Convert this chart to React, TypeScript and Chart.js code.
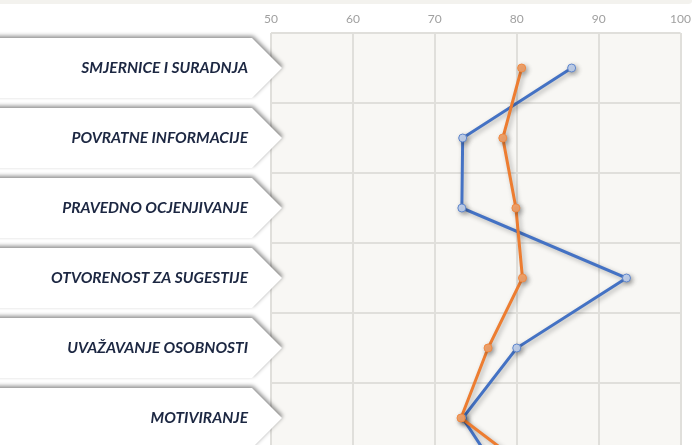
import React, { useEffect, useRef } from "react";
import { Chart, registerables } from "chart.js";

Chart.register(...registerables);

// Categories (7th row is below the visible part of the picture)
const categories = [
  "SMJERNICE I SURADNJA",
  "POVRATNE INFORMACIJE",
  "PRAVEDNO OCJENJIVANJE",
  "OTVORENOST ZA SUGESTIJE",
  "UVAŽAVANJE OSOBNOSTI",
  "MOTIVIRANJE",
  "",
];
const blueSeries = [86.7, 73.4, 73.3, 93.4, 80.0, 73.4, 79.0];
const orangeSeries = [80.6, 78.3, 79.9, 80.7, 76.5, 73.2, 84.5];
const xTicks = [50, 60, 70, 80, 90, 100];

const BLUE = "#4472c4";
const ORANGE = "#ed7d31";

const decorPlugin = {
  id: "decor",
  beforeDraw(chart: any) {
    const { ctx, chartArea } = chart;
    ctx.save();
    // top strip
    ctx.fillStyle = "#f3f2ee";
    ctx.beginPath();
    ctx.moveTo(0, 0);
    ctx.lineTo(692, 0);
    ctx.lineTo(692, 1);
    ctx.quadraticCurveTo(692, 4, 688, 4);
    ctx.lineTo(0, 4);
    ctx.closePath();
    ctx.fill();
    // plot background
    ctx.fillStyle = "#f8f7f4";
    ctx.fillRect(chartArea.left, chartArea.top, chartArea.right - chartArea.left, chartArea.bottom - chartArea.top);
    ctx.restore();
  },
  beforeDatasetsDraw(chart: any) {
    const ctx = chart.ctx;
    ctx.save();
    ctx.shadowColor = "rgba(0,0,0,0.3)";
    ctx.shadowBlur = 5;
    ctx.shadowOffsetX = 2;
    ctx.shadowOffsetY = 2;
  },
  afterDatasetsDraw(chart: any) {
    chart.ctx.restore();
  },
  afterDraw(chart: any) {
    const { ctx, scales } = chart;
    const y = scales.y;
    categories.forEach((label, i) => {
      if (!label) return;
      const cy = y.getPixelForValue(i);
      ctx.save();
      ctx.beginPath();
      ctx.moveTo(-20, cy - 30);
      ctx.lineTo(252, cy - 30);
      ctx.lineTo(282, cy);
      ctx.lineTo(252, cy + 30);
      ctx.lineTo(-20, cy + 30);
      ctx.closePath();
      ctx.shadowColor = "rgba(0,0,0,0.45)";
      ctx.shadowBlur = 4;
      ctx.shadowOffsetX = 1;
      ctx.shadowOffsetY = -2;
      ctx.fillStyle = "#ffffff";
      ctx.fill();
      ctx.restore();
      ctx.save();
      ctx.font = "italic bold 15.5px Lato";
      ctx.fillStyle = "#1c2742";
      ctx.textAlign = "right";
      ctx.textBaseline = "middle";
      ctx.fillText(label, 248, cy);
      ctx.restore();
    });
  },
};

export default function App() {
  const ref = useRef<HTMLCanvasElement | null>(null);
  useEffect(() => {
    document.body.style.margin = "0";
    document.body.style.overflow = "hidden";
    document.documentElement.style.overflow = "hidden";
    const canvas = ref.current!;
    const chart = new Chart(canvas, {
      type: "line",
      data: {
        labels: categories,
        datasets: [
          {
            label: "B",
            data: orangeSeries,
            borderColor: ORANGE,
            backgroundColor: ORANGE,
            borderWidth: 3,
            pointRadius: 4,
            pointBackgroundColor: "#f4a56d",
            pointBorderColor: "#f08a44",
            pointBorderWidth: 1,
            tension: 0,
          },
          {
            label: "A",
            data: blueSeries,
            borderColor: BLUE,
            backgroundColor: BLUE,
            borderWidth: 3,
            pointRadius: 4,
            pointBackgroundColor: "#c3d3ef",
            pointBorderColor: "#5f86cc",
            pointBorderWidth: 1,
            tension: 0,
          },
        ],
      },
      options: {
        animation: false,
        responsive: false,
        indexAxis: "y",
        layout: { padding: { left: 0, right: 16, top: 0, bottom: 7 } },
        plugins: { legend: { display: false }, tooltip: { enabled: false } },
        scales: {
          x: {
            type: "linear",
            position: "top",
            min: 50,
            max: 100,
            afterBuildTicks: (scale: any) => {
              scale.ticks = xTicks.map((v) => ({ value: v }));
            },
            afterFit: (scale: any) => {
              scale.height = 33;
            },
            grid: { color: "#e0dfdb", lineWidth: 2, drawTicks: false },
            border: { display: false },
            ticks: {
              padding: 7,
              color: "#a0a0a0",
              font: { family: "Lato", size: 12 },
            },
          },
          y: {
            type: "category",
            offset: true,
            afterFit: (scale: any) => {
              scale.width = 271;
            },
            grid: { color: "#e0dfdb", lineWidth: 2, drawTicks: false, offset: true },
            border: { display: false },
            ticks: { display: false },
          },
        },
      } as any,
      plugins: [decorPlugin],
    });
    return () => chart.destroy();
  }, []);
  return (
    <div style={{ width: 698, height: 530 }}>
      <canvas ref={ref} width={698} height={530} style={{ display: "block" }} />
    </div>
  );
}
